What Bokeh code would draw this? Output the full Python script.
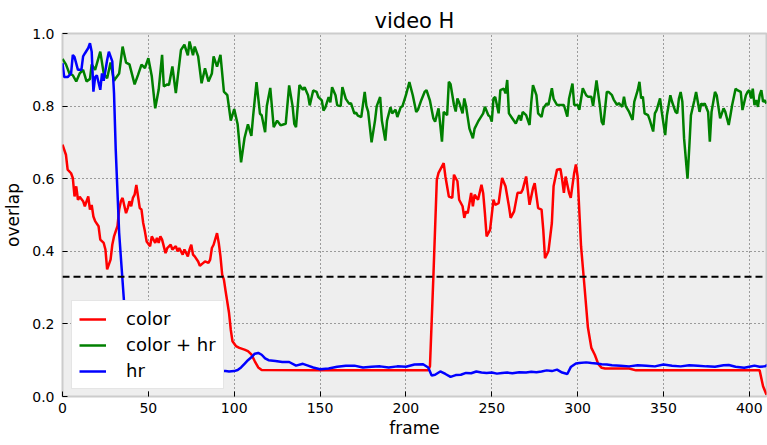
from bokeh.plotting import figure
from bokeh.models import Range1d, Span, Legend, LegendItem, FixedTicker
from bokeh.embed import file_html
from bokeh.resources import INLINE

title_text = "video H"
x_label = "frame"
y_label = "overlap"
threshold = 0.33
x_ticks = [0, 50, 100, 150, 200, 250, 300, 350, 400]
y_ticks = [0.0, 0.2, 0.4, 0.6, 0.8, 1.0]

green_f = [0, 2, 4, 6, 8, 10, 12, 14, 16, 17, 19, 22, 24, 26, 28, 30, 31, 33, 35, 37, 39, 42, 44, 46, 48, 50,
           52, 54, 56, 58, 59, 61, 62, 64, 66, 69, 71, 73, 74, 76, 77, 79, 81, 83, 85, 87, 88, 90, 92, 94, 96, 98,
           100, 102, 104, 106, 108, 110, 111, 113, 115, 116, 118, 119, 121, 123, 125, 127, 129, 130, 132, 134,
           135, 136, 138, 140, 141, 143, 144, 146, 148, 149, 151, 152, 153, 155, 156, 157, 159, 160, 162, 163,
           165, 167, 168, 170, 171, 172, 174, 176, 177, 178, 180, 182, 183, 185, 186, 188, 189, 191, 192, 194,
           195, 197, 198, 200, 202, 204, 206, 207, 209, 211, 212, 214, 216, 217, 219, 220, 221, 222, 224, 225,
           226, 228, 229, 230, 231, 233, 234, 235, 237, 239, 240, 242, 243, 245, 246, 248, 249, 250, 251, 252,
           254, 255, 257, 258, 259, 260, 262, 264, 266, 267, 268, 270, 272, 273, 274, 276, 277, 279, 280, 282,
           283, 285, 286, 288, 290, 292, 294, 295, 297, 298, 300, 301, 303, 305, 306, 308, 309, 311, 313, 314,
           315, 317, 318, 320, 321, 323, 324, 326, 327, 328, 330, 332, 333, 335, 336, 337, 338, 339, 341, 342,
           344, 345, 346, 348, 349, 351, 352, 354, 355, 357, 358, 359, 360, 361, 362, 364, 365, 366, 368, 369,
           370, 371, 372, 373, 374, 376, 377, 378, 380, 381, 382, 383, 385, 386, 388, 389, 390, 392, 393, 395,
           396, 398, 399, 400, 401, 402, 403, 404, 405, 406, 407, 408, 409, 410]
green_v = [0.93, 0.915, 0.89, 0.885, 0.868, 0.89, 0.90, 0.868, 0.875, 0.915, 0.90, 0.95, 0.89, 0.877, 0.92, 0.87,
           0.877, 0.89, 0.964, 0.92, 0.915, 0.86, 0.886, 0.914, 0.905, 0.932, 0.882, 0.794, 0.845, 0.941, 0.854,
           0.86, 0.858, 0.909, 0.836, 0.955, 0.969, 0.94, 0.978, 0.94, 0.964, 0.937, 0.863, 0.904, 0.868, 0.89,
           0.937, 0.909, 0.941, 0.84, 0.83, 0.76, 0.792, 0.75, 0.645, 0.712, 0.75, 0.718, 0.772, 0.866, 0.779,
           0.775, 0.728, 0.80, 0.85, 0.742, 0.76, 0.747, 0.75, 0.751, 0.857, 0.80, 0.751, 0.742, 0.858, 0.845,
           0.852, 0.83, 0.802, 0.843, 0.839, 0.825, 0.816, 0.788, 0.795, 0.825, 0.81, 0.852, 0.83, 0.802, 0.80,
           0.852, 0.82, 0.806, 0.808, 0.779, 0.782, 0.774, 0.77, 0.839, 0.80, 0.785, 0.70, 0.76, 0.80, 0.825,
           0.76, 0.705, 0.76, 0.797, 0.78, 0.79, 0.77, 0.797, 0.80, 0.83, 0.866, 0.83, 0.784, 0.79, 0.817, 0.84,
           0.844, 0.815, 0.766, 0.757, 0.794, 0.748, 0.702, 0.784, 0.775, 0.867, 0.86, 0.803, 0.785, 0.821, 0.81,
           0.78, 0.821, 0.80, 0.738, 0.711, 0.738, 0.757, 0.765, 0.78, 0.798, 0.775, 0.771, 0.757, 0.821, 0.825,
           0.78, 0.844, 0.848, 0.835, 0.872, 0.78, 0.766, 0.752, 0.775, 0.76, 0.784, 0.775, 0.748, 0.81, 0.858,
           0.83, 0.78, 0.77, 0.794, 0.807, 0.803, 0.849, 0.82, 0.803, 0.803, 0.803, 0.771, 0.82, 0.862, 0.803,
           0.803, 0.79, 0.849, 0.83, 0.826, 0.826, 0.80, 0.871, 0.80, 0.757, 0.748, 0.839, 0.839, 0.83, 0.818,
           0.803, 0.808, 0.798, 0.826, 0.80, 0.784, 0.762, 0.812, 0.844, 0.867, 0.821, 0.826, 0.78, 0.775, 0.762,
           0.73, 0.78, 0.789, 0.821, 0.784, 0.72, 0.775, 0.83, 0.812, 0.784, 0.78, 0.821, 0.839, 0.812, 0.711,
           0.60, 0.684, 0.775, 0.816, 0.839, 0.812, 0.784, 0.807, 0.803, 0.807, 0.784, 0.702, 0.784, 0.839, 0.83,
           0.798, 0.766, 0.794, 0.784, 0.748, 0.775, 0.803, 0.848, 0.844, 0.839, 0.789, 0.83, 0.839, 0.844,
           0.821, 0.848, 0.803, 0.817, 0.798, 0.83, 0.844, 0.812, 0.816, 0.807]

red_f = [0, 2, 3, 5, 6, 7, 8, 9, 10, 12, 13, 15, 16, 17, 18, 19, 21, 22, 24, 25, 26, 28, 29, 30, 32, 33, 34, 35,
         37, 38, 39, 40, 41, 42, 43, 44, 45, 46, 47, 48, 49, 51, 52, 54, 55, 56, 57, 58, 60, 61, 63, 64, 66, 67,
         68, 70, 71, 73, 74, 75, 76, 77, 79, 80, 82, 83, 85, 86, 87, 88, 90, 91, 92, 93, 94, 95, 97, 98, 99, 101,
         103, 106, 108, 110, 112, 114, 116, 150, 213, 214, 216, 218, 219, 220, 222, 223, 225, 227, 228, 230, 231,
         233, 234, 235, 236, 238, 239, 240, 242, 244, 245, 246, 247, 249, 251, 252, 254, 256, 258, 260, 261, 263,
         265, 267, 268, 270, 272, 274, 275, 277, 279, 280, 281, 283, 285, 286, 288, 290, 291, 292, 293, 295, 296,
         298, 299, 300, 302, 304, 306, 308, 310, 312, 314, 316, 330, 334, 406, 408, 410]
red_v = [0.694, 0.666, 0.625, 0.615, 0.602, 0.551, 0.579, 0.542, 0.55, 0.538, 0.524, 0.551, 0.515, 0.528, 0.496,
         0.483, 0.469, 0.432, 0.423, 0.405, 0.35, 0.377, 0.418, 0.441, 0.469, 0.515, 0.538, 0.547, 0.505, 0.519,
         0.538, 0.524, 0.547, 0.556, 0.583, 0.551, 0.519, 0.515, 0.478, 0.455, 0.427, 0.414, 0.441, 0.423, 0.437,
         0.423, 0.441, 0.432, 0.395, 0.409, 0.418, 0.405, 0.414, 0.40, 0.409, 0.391, 0.405, 0.386, 0.405, 0.418,
         0.391, 0.386, 0.372, 0.36, 0.368, 0.372, 0.368, 0.377, 0.409, 0.418, 0.45, 0.423, 0.386, 0.336, 0.322,
         0.29, 0.23, 0.184, 0.152, 0.139, 0.134, 0.129, 0.125, 0.116, 0.097, 0.08, 0.073, 0.072, 0.072, 0.083,
         0.331, 0.597, 0.616, 0.625, 0.643, 0.606, 0.551, 0.547, 0.611, 0.593, 0.542, 0.524, 0.492, 0.51, 0.505,
         0.561, 0.524, 0.556, 0.542, 0.583, 0.56, 0.505, 0.441, 0.459, 0.542, 0.528, 0.533, 0.602, 0.579, 0.524,
         0.492, 0.51, 0.561, 0.561, 0.57, 0.606, 0.528, 0.574, 0.588, 0.519, 0.515, 0.459, 0.381, 0.40, 0.478,
         0.579, 0.625, 0.627, 0.597, 0.561, 0.606, 0.561, 0.547, 0.616, 0.639, 0.606, 0.414, 0.303, 0.19, 0.134,
         0.115, 0.09, 0.079, 0.077, 0.077, 0.072, 0.072, 0.028, 0.005]

blue_f = [0, 1, 3, 5, 6, 7, 9, 11, 12, 13, 15, 16, 17, 18, 19, 20, 22, 23, 24, 26, 27, 29, 30, 31, 33, 36, 38, 40,
          42, 60, 80, 95, 97, 100, 102, 104, 106, 108, 110, 112, 114, 116, 118, 120, 124, 128, 132, 136, 140, 143,
          146, 150, 155, 160, 165, 170, 175, 180, 185, 190, 195, 200, 205, 210, 213, 215, 217, 220, 223, 226, 229,
          232, 235, 238, 241, 244, 247, 250, 253, 256, 259, 262, 266, 270, 273, 276, 279, 282, 285, 288, 291, 294,
          296, 299, 301, 305, 308, 311, 314, 317, 320, 325, 330, 335, 340, 345, 350, 355, 360, 365, 370, 375, 380,
          385, 388, 392, 397, 400, 403, 406, 409, 411]
blue_v = [0.918, 0.88, 0.88, 0.89, 0.941, 0.935, 0.90, 0.90, 0.937, 0.945, 0.96, 0.973, 0.95, 0.84, 0.88, 0.885,
          0.845, 0.89, 0.87, 0.927, 0.95, 0.923, 0.836, 0.68, 0.45, 0.25, 0.15, 0.10, 0.08, 0.075, 0.07, 0.07,
          0.069, 0.07, 0.073, 0.08, 0.09, 0.10, 0.108, 0.118, 0.12, 0.115, 0.105, 0.10, 0.098, 0.095, 0.095,
          0.085, 0.09, 0.085, 0.08, 0.075, 0.077, 0.082, 0.085, 0.085, 0.08, 0.082, 0.083, 0.08, 0.083, 0.082,
          0.088, 0.089, 0.08, 0.058, 0.06, 0.069, 0.062, 0.054, 0.059, 0.06, 0.065, 0.064, 0.069, 0.066, 0.065,
          0.066, 0.063, 0.065, 0.066, 0.064, 0.067, 0.066, 0.068, 0.067, 0.069, 0.072, 0.07, 0.074, 0.066, 0.062,
          0.081, 0.091, 0.092, 0.094, 0.092, 0.091, 0.089, 0.088, 0.086, 0.085, 0.083, 0.086, 0.085, 0.083, 0.088,
          0.085, 0.083, 0.086, 0.085, 0.083, 0.082, 0.086, 0.087, 0.082, 0.079, 0.082, 0.085, 0.082, 0.083, 0.088]

FONT = "DejaVu Sans"

p = figure(frame_width=704, frame_height=363, output_backend="svg", toolbar_location=None,
           x_range=Range1d(0, 410), y_range=Range1d(0, 1),
           min_border_left=54, min_border_right=1, min_border_top=33, min_border_bottom=41,
           background_fill_color="#eeeeee", border_fill_color="white")

p.title.text = title_text
p.title.align = "center"
p.title.text_font = FONT
p.title.text_font_size = "21px"
p.title.text_font_style = "normal"
p.title.text_color = "black"
p.title.standoff = 2

p.outline_line_color = "#cccccc"
p.outline_line_width = 2

for ax in (p.xaxis[0], p.yaxis[0]):
    ax.axis_line_color = None
    ax.major_tick_in = 5
    ax.major_tick_out = 0
    ax.minor_tick_line_color = None
    ax.major_tick_line_color = "black"
    ax.major_label_text_font = FONT
    ax.major_label_text_font_size = "14px"
    ax.major_label_text_color = "black"
    ax.axis_label_text_font = FONT
    ax.axis_label_text_font_size = "17px"
    ax.axis_label_text_font_style = "normal"
    ax.axis_label_text_color = "black"

p.xaxis.axis_label = x_label
p.yaxis.axis_label = y_label
p.xaxis.ticker = FixedTicker(ticks=x_ticks)
p.yaxis.ticker = FixedTicker(ticks=y_ticks)
p.yaxis.major_label_overrides = {t: f"{t:.1f}" for t in y_ticks}
p.xaxis.major_label_standoff = 6
p.yaxis.major_label_standoff = 8
p.xaxis.axis_label_standoff = 2
p.yaxis.axis_label_standoff = 6

p.grid.grid_line_color = "black"
p.grid.grid_line_dash = "1 3"
p.grid.grid_line_width = 1
p.grid.grid_line_alpha = 0.7

r_red = p.line(red_f, red_v, line_color="#ff0000", line_width=2.5)
r_green = p.line(green_f, green_v, line_color="#008000", line_width=2.5)
r_blue = p.line(blue_f, blue_v, line_color="#0000ff", line_width=2.5)

p.add_layout(Span(location=threshold, dimension="width", line_color="black",
                  line_width=2, line_dash="7 4"))

legend = Legend(items=[LegendItem(label="color", renderers=[r_red]),
                       LegendItem(label="color + hr", renderers=[r_green]),
                       LegendItem(label="hr", renderers=[r_blue])],
                location=(9, 7), padding=7, spacing=5, glyph_width=27, glyph_height=20,
                label_standoff=20, label_text_font=FONT, label_text_font_size="18px",
                label_text_color="black", label_height=20,
                border_line_color="#cccccc", border_line_width=1,
                background_fill_color="white", background_fill_alpha=1.0, margin=0)
p.add_layout(legend, "center")

open("out.html", "w").write(file_html(p, INLINE))
